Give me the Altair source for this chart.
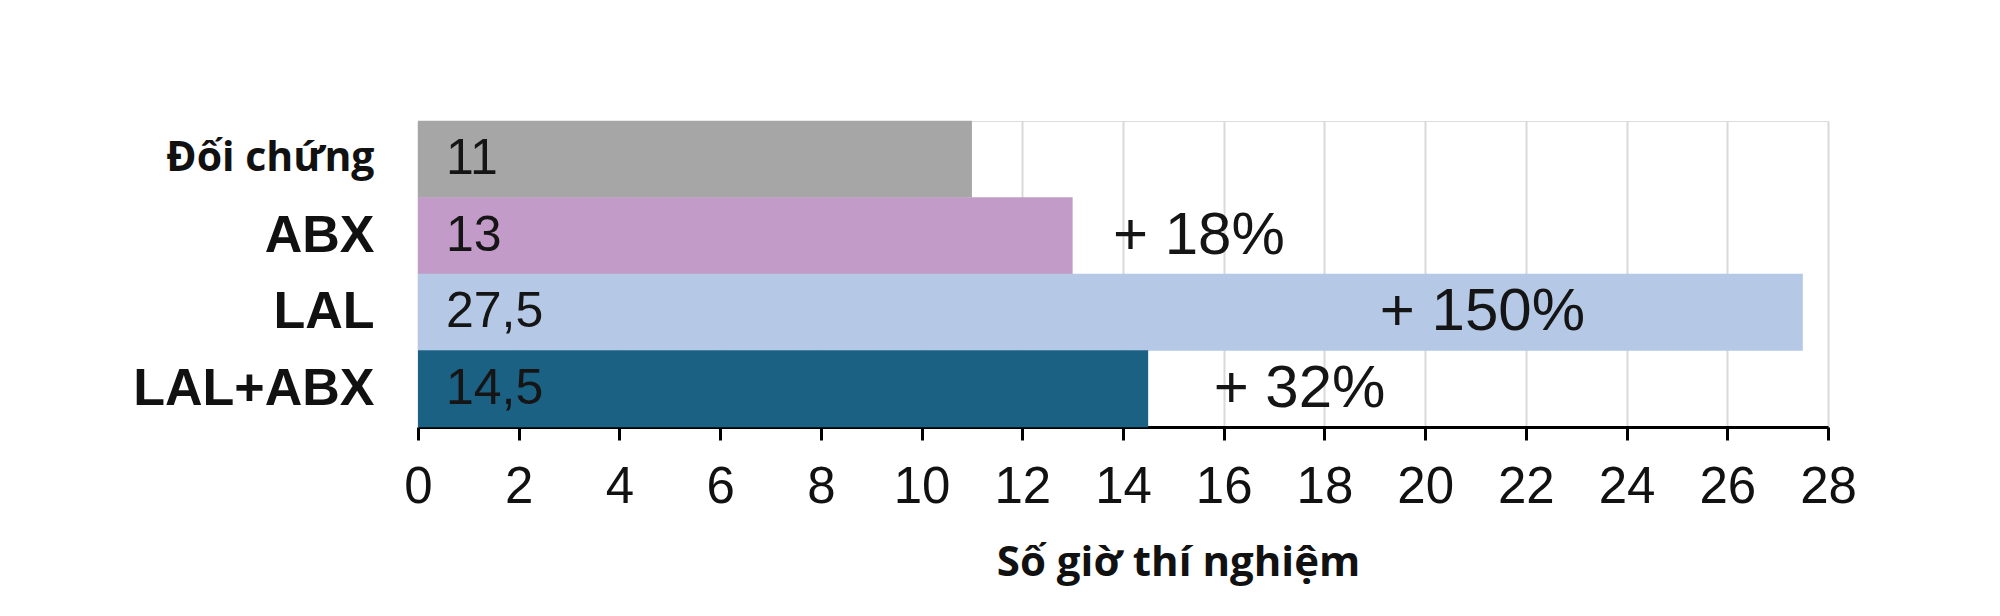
import altair as alt
import pandas as pd

categories = ["Đối chứng", "ABX", "LAL", "LAL+ABX"]
hours = [11, 13, 27.5, 14.5]
value_text = ["11", "13", "27,5", "14,5"]
change_text = ["", "+ 18%", "+ 150%", "+ 32%"]
change_pos = [0, 13.8, 19.1, 15.8]
colors = ["#a6a6a6", "#c39bc8", "#b5c9e7", "#1b6184"]
x_ticks = list(range(0, 29, 2))

df = pd.DataFrame({
    "cat": categories,
    "hours": hours,
    "vtext": value_text,
    "ctext": change_text,
    "cpos": change_pos,
    "color": colors,
})

y_enc = alt.Y(
    "cat:N",
    sort=categories,
    scale=alt.Scale(paddingInner=0, paddingOuter=0),
    axis=alt.Axis(
        title=None,
        domain=False,
        ticks=False,
        grid=False,
        labelPadding=44,
        labelLimit=0,
        labelFontWeight="bold",
        labelColor="#111111",
        labelFont={"condition": {"test": "datum.value === 'Đối chứng'", "value": "Open Sans"},
                   "value": "Liberation Sans"},
        labelFontSize={"condition": {"test": "datum.value === 'Đối chứng'", "value": 41},
                       "value": 52},
    ),
)

x_scale = alt.Scale(domain=[0, 28], nice=False)

bars = alt.Chart(df).mark_bar(size=77).encode(
    x=alt.X(
        "hours:Q",
        scale=x_scale,
        axis=alt.Axis(
            values=x_ticks,
            title="Số giờ thí nghiệm",
            titleFont="Open Sans",
            titleFontWeight="bold",
            titleFontSize=42,
            titleColor="#111111",
            titlePadding=30,
            titleX=760,
            titleAlign="center",
            labelFont="Liberation Sans",
            labelFontSize=51,
            labelColor="#111111",
            labelPadding=22,
            labelFlush=False,
            domainColor="#000000",
            domainWidth=3,
            tickColor="#000000",
            tickWidth=3,
            tickSize=13,
            grid=True,
            gridColor="#d9d9d9",
            gridWidth=2,
        ),
    ),
    y=y_enc,
    color=alt.Color("color:N", scale=None),
)

inside = alt.Chart(df).mark_text(
    align="left", baseline="middle", dx=28, font="Liberation Sans", fontSize=50, color="#151515"
).encode(
    x=alt.X("zero:Q", scale=x_scale),
    y=alt.Y("cat:N", sort=categories),
    text="vtext:N",
).transform_calculate(zero="0")

change = alt.Chart(df).transform_filter("datum.ctext != ''").mark_text(
    align="left", baseline="middle", font="Liberation Sans", fontSize=60, color="#151515"
).encode(
    x=alt.X("cpos:Q", scale=x_scale),
    y=alt.Y("cat:N", sort=categories),
    text="ctext:N",
)

chart = alt.layer(bars, inside, change).properties(
    width=1410,
    height=306,
    autosize="none",
    padding={"left": 410, "top": 113, "right": 164, "bottom": 181},
).configure_view(stroke=None).configure(background="white")

chart.save("out.html", embed_options={"renderer": "svg", "actions": False})
